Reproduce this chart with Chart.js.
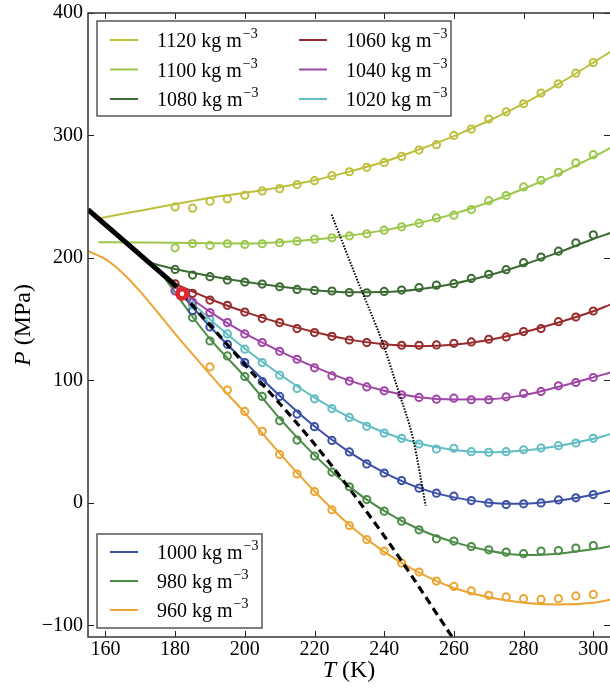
<!DOCTYPE html>
<html>
<head>
<meta charset="utf-8">
<script src="https://cdn.jsdelivr.net/npm/chart.js@4/dist/chart.umd.min.js"></script>
<style>
  html, body { margin: 0; padding: 0; background: #fff; }
  #wrap { width: 610px; height: 689px; }
</style>
</head>
<body>
<div id="wrap"><canvas id="chart" width="610" height="689"></canvas></div>
<script>
// densities (kg m^-3) and their colours
const densities = [1120, 1100, 1080, 1060, 1040, 1020, 1000, 980, 960];
const seriesColors = ['#bfbf3f', '#9bc84b', '#3c6a33', '#982b2b', '#a046a8', '#62bec2', '#3c50a5', '#4b8c46', '#eba532'];

const xTicks = [160, 180, 200, 220, 240, 260, 280, 300];
const yTicks = [-100, 0, 100, 200, 300, 400];

// simulation points (open circles), T in K
const circleT = [180, 185, 190, 195, 200, 205, 210, 215, 220, 225, 230, 235, 240, 245, 250, 255, 260, 265, 270, 275, 280, 285, 290, 295, 300];
const circleP1120 = [241.7, 240.6, 246.3, 248.2, 251.2, 254.7, 256.6, 259.9, 263.1, 267.2, 270.4, 274, 278, 282.9, 288.1, 292.5, 300, 305.2, 313.4, 319.3, 325.9, 334.6, 342.2, 350.9, 359.5];
const circleP1100 = [208.3, 211.8, 210.2, 211.6, 211, 211.6, 212.4, 213.7, 215.3, 216.5, 218, 219.7, 222.7, 225.4, 228.4, 232.7, 234.9, 239.5, 246.8, 250.9, 258, 263.4, 269.9, 277.6, 284.3];
const circleP1080 = [190.6, 186, 184.7, 181.9, 180.3, 178.7, 176.5, 174.3, 173.5, 173, 171.8, 171.6, 172.7, 173.8, 175.7, 177.8, 179, 183.3, 186.6, 190.4, 196.1, 200.7, 205.5, 212.4, 218.9];
const circleP1060 = [178.9, 171.1, 165.6, 161.3, 155.8, 150.7, 147.2, 142.3, 139.1, 136, 133, 130.9, 129, 128.7, 128.7, 129, 130.3, 131.4, 133.6, 135.5, 139.9, 142.3, 148, 151.8, 156.7];
const circleP1040 = [173, 164, 155.4, 147.2, 138, 130.9, 123.8, 117.3, 110.3, 103.7, 99.5, 94.7, 91.5, 88.2, 86.1, 84.7, 85.5, 84.2, 84.2, 86.6, 89.4, 91, 95.6, 98.3, 102.4];
const circleP1020 = [174.3, 161.3, 149.9, 138, 125.5, 114.6, 104.3, 93.4, 85, 77, 69.8, 62.5, 57, 52.7, 48.1, 44, 44.6, 41.8, 41.3, 41.8, 43.4, 44.8, 46.7, 48.9, 52.7];
const circleP1000 = [null, 157, 143.6, 129.5, 114.6, 99.1, 86.9, 72.5, 62.2, 51, 41.6, 31.8, 24.4, 18.2, 12, 7.9, 5.5, 1.9, 0, -1.4, -0.8, 0, 2.4, 4.1, 6.8];
const circleP980 = [null, 151.3, 132.2, 120, 103.2, 86.9, 67, 51.3, 38.2, 25.2, 13.2, 2.7, -6.8, -14.9, -22, -29.3, -31.2, -35.6, -38.3, -40.2, -41.5, -39.3, -38.9, -36.9, -34.8];
const circleP960 = [null, null, 111, 92.1, 74.7, 58.4, 39.6, 23.6, 9.3, -5.6, -18.5, -29.9, -39.3, -49.1, -56.5, -63.8, -68.2, -71.9, -75.5, -76.8, -78.2, -78.8, -78.2, -76, -74.7];

// model curves (solid lines)
const lineT1120 = [158.5, 165, 170, 180, 190, 200, 210, 220, 230, 240, 250, 260, 270, 280, 290, 300, 305];
const lineP1120 = [232.5, 236, 238.6, 243.9, 249.2, 253.2, 257.8, 263.5, 270.5, 278.5, 288.5, 299.5, 312, 326, 342, 359.5, 368.5];
const lineT1100 = [158, 170, 180, 190, 200, 210, 220, 230, 240, 250, 260, 270, 280, 290, 300, 305];
const lineP1100 = [212.8, 212.6, 212.4, 212, 211.8, 212.8, 215, 218.3, 222.5, 228.5, 236, 245.5, 256.5, 268.5, 282.5, 290];
const lineT1080 = [172.7, 180, 190, 200, 210, 220, 230, 240, 250, 260, 270, 280, 290, 300, 305];
const lineP1080 = [196, 191, 185.3, 180.5, 176.6, 173.6, 172, 172.2, 174.5, 179, 185.8, 194.5, 204.5, 215.5, 220.5];
const lineT1060 = [179.5, 190, 200, 210, 220, 230, 240, 250, 260, 270, 280, 290, 300, 305];
const lineP1060 = [179.5, 166.5, 156, 147, 139.5, 133.3, 129.5, 128, 129.2, 133, 139.3, 147.3, 156.5, 162];
const lineT1040 = [180.5, 190, 200, 210, 220, 230, 240, 250, 260, 270, 280, 290, 300, 305];
const lineP1040 = [175.5, 156, 138.5, 124, 111, 99.8, 91.5, 86.3, 84.5, 84.6, 88, 94.8, 102.5, 106.5];
const lineT1020 = [180.5, 190, 200, 210, 220, 230, 240, 250, 260, 270, 280, 290, 300, 305];
const lineP1020 = [175, 150, 126, 105, 86, 70, 57.5, 48.5, 43.2, 41.3, 42.8, 46.5, 52.3, 56.2];
const lineT1000 = [181, 190, 200, 210, 220, 230, 240, 250, 260, 270, 280, 290, 300, 305];
const lineP1000 = [173, 144, 115, 87.5, 62.5, 41.5, 24.8, 12.3, 4.5, 0.2, -0.8, 1.8, 6.6, 10];
const lineT980 = [176.7, 185, 190, 200, 210, 220, 230, 240, 250, 260, 270, 280, 290, 300, 305];
const lineP980 = [185, 152, 134, 103, 69, 39, 13.3, -6.5, -21.5, -32, -39, -42.5, -41.5, -37.8, -35.3];
const lineT960 = [155, 160, 165, 170, 175, 180, 185, 190, 195, 200, 210, 220, 230, 240, 250, 260, 270, 280, 290, 300, 305];
const lineP960 = [205.5, 199, 187.5, 172.5, 155.5, 138, 121.5, 105, 89, 73.5, 40.5, 9.5, -18, -40, -57, -69.5, -77, -81.5, -83, -81.5, -79];

// black curves
const coexT = [155, 168, 180.5];
const coexP = [239.5, 207.4, 176.5];
const dashT = [182, 200, 220, 240, 258, 261];
const dashP = [171, 113, 48, -27, -103, -116];
const dotT = [224.9, 232, 239.7, 244, 248.3, 251.9];
const dotP = [235.4, 184, 129.5, 92, 52.1, -2.2];
const critT = [182];
const critP = [170.8];

const circleP = [circleP1120, circleP1100, circleP1080, circleP1060, circleP1040, circleP1020, circleP1000, circleP980, circleP960];
const lineT = [lineT1120, lineT1100, lineT1080, lineT1060, lineT1040, lineT1020, lineT1000, lineT980, lineT960];
const lineP = [lineP1120, lineP1100, lineP1080, lineP1060, lineP1040, lineP1020, lineP1000, lineP980, lineP960];

function pairs(xs, ys) {
    return xs.map((x, i) => ({ x: x, y: ys[i] })).filter(p => p.y !== null);
}

const datasets = [];
densities.forEach((d, i) => {
    datasets.push({
        label: d + ' kg m\u207B\u00B3',
        data: pairs(lineT[i], lineP[i]),
        showLine: true,
        borderColor: seriesColors[i],
        borderWidth: 2,
        pointRadius: 0,
        cubicInterpolationMode: 'monotone',
        order: 10
    });
    datasets.push({
        label: d + ' sim',
        data: pairs(circleT, circleP[i]),
        showLine: false,
        borderColor: seriesColors[i],
        backgroundColor: 'rgba(0,0,0,0)',
        borderWidth: 2,
        pointRadius: 3.6,
        pointStyle: 'circle',
        order: 9
    });
});
datasets.push({
    label: 'coexistence',
    data: pairs(coexT, coexP),
    showLine: true, borderColor: '#000', borderWidth: 5, pointRadius: 0,
    order: 3
});
datasets.push({
    label: 'dashed',
    data: pairs(dashT, dashP),
    showLine: true, borderColor: '#000', borderWidth: 3.2, borderDash: [8, 5], pointRadius: 0,
    cubicInterpolationMode: 'monotone', order: 2
});
datasets.push({
    label: 'dotted',
    data: pairs(dotT, dotP),
    showLine: true, borderColor: '#000', borderWidth: 2, borderDash: [1.5, 1.5], pointRadius: 0,
    cubicInterpolationMode: 'monotone', order: 2
});
datasets.push({
    label: 'critical',
    data: pairs(critT, critP),
    showLine: false, borderColor: '#dc2830', backgroundColor: '#ffffff',
    borderWidth: 4.8, pointRadius: 4.6, order: 0
});

const serif = '"Liberation Serif", "DejaVu Serif", serif';

// frame with inward ticks on all four sides
const frameTicks = {
    id: 'frameTicks',
    afterDatasetsDraw(chart) {
        const { ctx, chartArea: a, scales: { x, y } } = chart;
        ctx.save();
        ctx.strokeStyle = '#222';
        ctx.lineWidth = 1;
        xTicks.forEach(v => {
            const px = Math.round(x.getPixelForValue(v)) + 0.5;
            ctx.beginPath();
            ctx.moveTo(px, a.bottom); ctx.lineTo(px, a.bottom - 6);
            ctx.moveTo(px, a.top); ctx.lineTo(px, a.top + 6);
            ctx.stroke();
        });
        yTicks.forEach(v => {
            const py = Math.round(y.getPixelForValue(v)) + 0.5;
            ctx.beginPath();
            ctx.moveTo(a.left, py); ctx.lineTo(a.left + 6, py);
            ctx.moveTo(a.right, py); ctx.lineTo(a.right - 6, py);
            ctx.stroke();
        });
        ctx.strokeStyle = '#333';
        ctx.lineWidth = 1.5;
        ctx.strokeRect(a.left, a.top, a.right - a.left + 1.5, a.bottom - a.top);
        ctx.restore();
    }
};

function drawEntry(ctx, x, y, color, label) {
    ctx.strokeStyle = color;
    ctx.lineWidth = 2;
    ctx.beginPath();
    ctx.moveTo(x, y); ctx.lineTo(x + 28, y);
    ctx.stroke();
    ctx.fillStyle = '#000';
    ctx.textBaseline = 'alphabetic';
    ctx.textAlign = 'left';
    ctx.font = '20px ' + serif;
    const base = label + ' kg m';
    ctx.fillText(base, x + 47, y + 7);
    const w = ctx.measureText(base).width;
    ctx.font = '14px ' + serif;
    ctx.fillText('\u22123', x + 47 + w + 1, y - 2);
}

function drawBox(ctx, left, top, w, h) {
    ctx.fillStyle = '#fff';
    ctx.fillRect(left, top, w, h);
    ctx.strokeStyle = '#4a4a4a';
    ctx.lineWidth = 1.4;
    ctx.strokeRect(left, top, w, h);
}

// two legend boxes, as in the figure
const legendBoxes = {
    id: 'legendBoxes',
    afterDraw(chart) {
        const { ctx, chartArea: a } = chart;
        ctx.save();
        const l1 = a.left + 9, t1 = a.top + 8;
        drawBox(ctx, l1, t1, 354, 95);
        for (let i = 0; i < 6; i++) {
            const col = Math.floor(i / 3), row = i % 3;
            drawEntry(ctx, l1 + 13 + col * 189, t1 + 19 + row * 29.5, seriesColors[i], densities[i]);
        }
        const t2 = a.bottom - 9 - 94;
        drawBox(ctx, l1, t2, 165, 94);
        for (let i = 6; i < 9; i++) {
            drawEntry(ctx, l1 + 13, t2 + 18 + (i - 6) * 29, seriesColors[i], densities[i]);
        }
        ctx.restore();
    }
};

function drawMixed(ctx, parts, cx, baseY) {
    let total = 0;
    parts.forEach(p => { ctx.font = p[0] + ' 24px ' + serif; total += ctx.measureText(p[1]).width; });
    let x = cx - total / 2;
    parts.forEach(p => {
        ctx.font = p[0] + ' 24px ' + serif;
        ctx.fillText(p[1], x, baseY);
        x += ctx.measureText(p[1]).width;
    });
}

const axisTitles = {
    id: 'axisTitles',
    afterDraw(chart) {
        const { ctx, chartArea: a } = chart;
        ctx.save();
        ctx.fillStyle = '#000';
        ctx.textBaseline = 'alphabetic';
        ctx.textAlign = 'left';
        drawMixed(ctx, [['italic', 'T'], ['normal', ' (K)']], (a.left + a.right) / 2, 677);
        ctx.translate(30, (a.top + a.bottom) / 2);
        ctx.rotate(-Math.PI / 2);
        drawMixed(ctx, [['italic', 'P'], ['normal', ' (MPa)']], 0, 0);
        ctx.restore();
    }
};

const tickFont = { family: 'Liberation Serif', size: 20 };

function noPad(s) {
    s.paddingLeft = 0; s.paddingRight = 0; s.paddingTop = 0; s.paddingBottom = 0;
}

new Chart(document.getElementById('chart').getContext('2d'), {
    type: 'scatter',
    data: { datasets: datasets },
    options: {
        responsive: false,
        animation: false,
        devicePixelRatio: 1,
        layout: { autoPadding: false, padding: { top: 13, right: 0, left: 0, bottom: 0 } },
        plugins: { legend: { display: false }, tooltip: { enabled: false } },
        scales: {
            x: {
                type: 'linear', min: 155, max: 304.8,
                grid: { display: false, drawTicks: false },
                border: { display: false },
                afterBuildTicks: s => { s.ticks = xTicks.map(v => ({ value: v })); },
                afterFit: s => { s.height = 52; noPad(s); },
                ticks: { font: tickFont, color: '#000', padding: 1, autoSkip: false, maxRotation: 0 }
            },
            y: {
                type: 'linear', min: -109.5, max: 400,
                grid: { display: false, drawTicks: false },
                border: { display: false },
                afterBuildTicks: s => { s.ticks = yTicks.map(v => ({ value: v })); },
                afterFit: s => { s.width = 88; noPad(s); },
                ticks: {
                    font: tickFont, color: '#000', padding: 5, autoSkip: false,
                    callback: v => (v < 0 ? '\u2212' + Math.abs(v) : String(v))
                }
            }
        }
    },
    plugins: [frameTicks, legendBoxes, axisTitles]
});
</script>
</body>
</html>
